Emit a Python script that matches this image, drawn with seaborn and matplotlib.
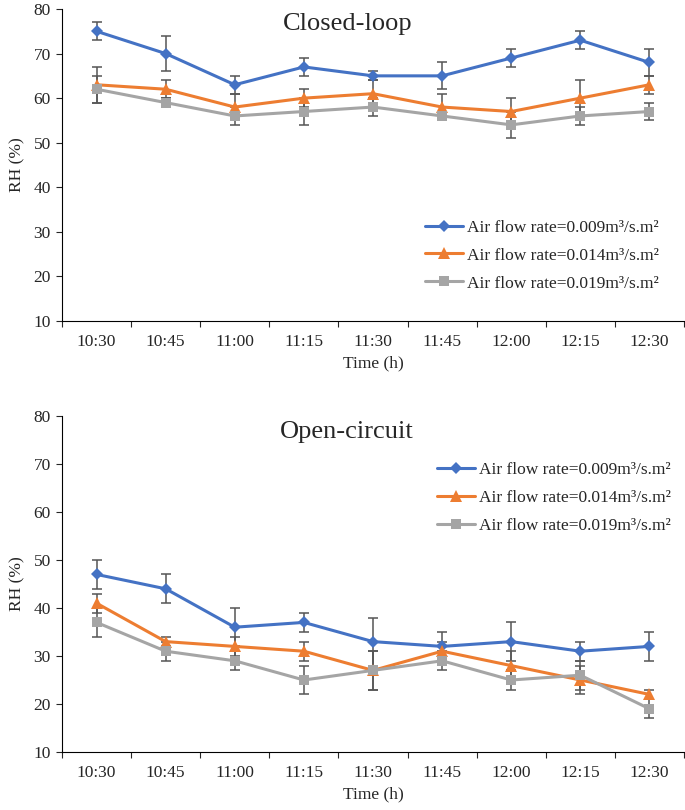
import numpy as np
import matplotlib
matplotlib.use("Agg")
import matplotlib.pyplot as plt
import seaborn as sns
from matplotlib.ticker import FixedLocator

# --- Data ---
times = ["10:30", "10:45", "11:00", "11:15", "11:30", "11:45", "12:00", "12:15", "12:30"]
labels = ["Air flow rate=0.009m³/s.m²", "Air flow rate=0.014m³/s.m²", "Air flow rate=0.019m³/s.m²"]

closed_009 = [75, 70, 63, 67, 65, 65, 69, 73, 68]
closed_014 = [63, 62, 58, 60, 61, 58, 57, 60, 63]
closed_019 = [62, 59, 56, 57, 58, 56, 54, 56, 57]
closed_009_err = [2, 4, 2, 2, 1, 3, 2, 2, 3]
closed_014_err = [4, 2, 3, 2, 3, 3, 3, 4, 2]
closed_019_err = [3, 1, 2, 3, 2, 1, 3, 2, 2]

open_009 = [47, 44, 36, 37, 33, 32, 33, 31, 32]
open_014 = [41, 33, 32, 31, 27, 31, 28, 25, 22]
open_019 = [37, 31, 29, 25, 27, 29, 25, 26, 19]
open_009_err = [3, 3, 4, 2, 5, 3, 4, 2, 3]
open_014_err = [2, 1, 2, 2, 4, 2, 3, 3, 1]
open_019_err = [3, 2, 2, 3, 4, 2, 2, 3, 2]

colors = ["#4472C4", "#ED7D31", "#A5A5A5"]
markers = ["D", "^", "s"]
msizes = [6.5, 8.5, 6.5]

sns.set_style("white")
plt.rcParams["font.family"] = ["Liberation Serif", "DejaVu Serif"]

fig = plt.figure(figsize=(6.85, 8.10), dpi=100)
ax1 = fig.add_axes([0.0905, 0.6037, 0.908, 0.3852])
ax2 = fig.add_axes([0.0905, 0.0716, 0.908, 0.4148])


def draw_panel(ax, series, errors, legend_anchor):
    for vals, errs, lab, c, m, ms in zip(series, errors, labels, colors, markers, msizes):
        ax.errorbar(times, vals, yerr=errs, fmt="none", ecolor="#555555",
                    elinewidth=1.1, capsize=3.6, capthick=1.1, zorder=2)
        sns.lineplot(x=times, y=vals, ax=ax, color=c, marker=m, markersize=ms,
                     markeredgewidth=0, linewidth=2.2, label=lab, sort=False, zorder=3)

    ax.set_ylim(10, 80)
    ax.set_yticks(range(10, 81, 10))
    ax.set_xlim(-0.5, len(times) - 0.5)
    ax.xaxis.set_minor_locator(FixedLocator(np.arange(-0.5, len(times), 1)))
    ax.tick_params(axis="x", which="major", length=0, pad=9, labelsize=12.5)
    ax.tick_params(axis="x", which="minor", length=4, width=0.8, direction="out", bottom=True)
    ax.tick_params(axis="y", length=4, width=0.8, direction="out", left=True, pad=4, labelsize=12.5)
    for s in ["top", "right"]:
        ax.spines[s].set_visible(False)
    for s in ["left", "bottom"]:
        ax.spines[s].set_color("black")
        ax.spines[s].set_linewidth(0.8)
    ax.set_xlabel("Time (h)", fontsize=12.5, labelpad=4)
    ax.set_ylabel("RH (%)", fontsize=12.5, labelpad=6)
    ax.legend(loc="center left", bbox_to_anchor=legend_anchor, frameon=False, fontsize=12.5,
              handlelength=2.2, handletextpad=0.2, labelspacing=0.68,
              borderpad=0, borderaxespad=0)


draw_panel(ax1, [closed_009, closed_014, closed_019],
           [closed_009_err, closed_014_err, closed_019_err], (0.584, 0.21))
draw_panel(ax2, [open_009, open_014, open_019],
           [open_009_err, open_014_err, open_019_err], (0.603, 0.756))

fig.text(348 / 685, 1 - 24 / 810, "Closed-loop", fontsize=19, ha="center", va="center")
fig.text(347 / 685, 1 - 432 / 810, "Open-circuit", fontsize=19, ha="center", va="center")

fig.savefig("out.png", dpi=100)
